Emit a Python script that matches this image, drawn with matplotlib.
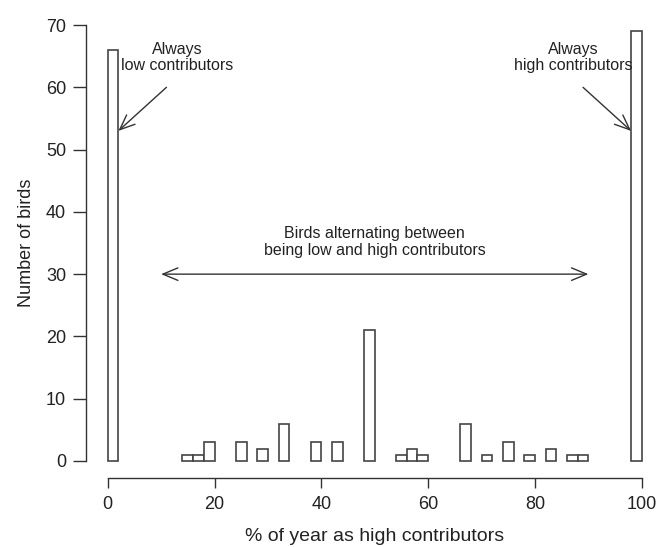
import numpy as np
import matplotlib
matplotlib.use('Agg')
import matplotlib.pyplot as plt

# histogram bins (% of year as high contributors), width 2
bin_left = [0, 14, 16, 18, 24, 28, 32, 38, 42, 48, 54, 56, 58,
            66, 70, 74, 78, 82, 86, 88, 98]
counts = [66, 1, 1, 3, 3, 2, 6, 3, 3, 21, 1, 2, 1,
          6, 1, 3, 1, 2, 1, 1, 69]
bin_width = 2

x_ticks = [0, 20, 40, 60, 80, 100]
y_ticks = [0, 10, 20, 30, 40, 50, 60, 70]

plt.rcParams['font.family'] = ['Liberation Sans', 'DejaVu Sans']
ink = '#333333'
txt = '#222222'

fig = plt.figure(figsize=(6.58, 5.47), dpi=100)
ax = fig.add_axes([0.1312, 0.1254, 0.8766, 0.8607])

ax.bar(bin_left, counts, width=bin_width, align='edge',
       facecolor='white', edgecolor='#444444', linewidth=1.2)

ax.set_xlim(-4, 104)
ax.set_ylim(-2.8, 72.8)
for s in ['top', 'right']:
    ax.spines[s].set_visible(False)
ax.spines['left'].set_bounds(0, 70)
ax.spines['bottom'].set_bounds(0, 100)
for s in ['left', 'bottom']:
    ax.spines[s].set_color(ink)
    ax.spines[s].set_linewidth(1.0)

ax.set_xticks(x_ticks)
ax.set_yticks(y_ticks)
ax.tick_params(axis='x', length=7.5, width=1.0, color=ink, pad=5,
               labelsize=13, labelcolor=txt)
ax.tick_params(axis='y', length=9.5, width=1.0, color=ink, pad=5,
               labelsize=13, labelcolor=txt)

ax.set_xlabel('% of year as high contributors', fontsize=14,
              color=txt, labelpad=11)
ax.set_ylabel('Number of birds', fontsize=13, color=txt, labelpad=8)

arrow = dict(arrowstyle='->,head_length=0.6,head_width=0.25', color=ink,
             lw=1.0, mutation_scale=18, shrinkA=0, shrinkB=0)

ax.text(13, 64.8, 'Always\nlow contributors', ha='center', va='center',
        fontsize=11.5, color=txt, linespacing=1.15)
ax.annotate('', xy=(2, 53), xytext=(11, 60), arrowprops=arrow)

ax.text(87.1, 64.8, 'Always\nhigh contributors', ha='center', va='center',
        fontsize=11.5, color=txt, linespacing=1.15)
ax.annotate('', xy=(98, 53), xytext=(89, 60), arrowprops=arrow)

ax.text(50, 35.2, 'Birds alternating between\nbeing low and high contributors',
        ha='center', va='center', fontsize=11.5, color=txt, linespacing=1.15)
ax.annotate('', xy=(90, 30), xytext=(10, 30),
            arrowprops=dict(arrow, arrowstyle='<->,head_length=0.6,head_width=0.25'))

fig.savefig('out.png', dpi=100)
